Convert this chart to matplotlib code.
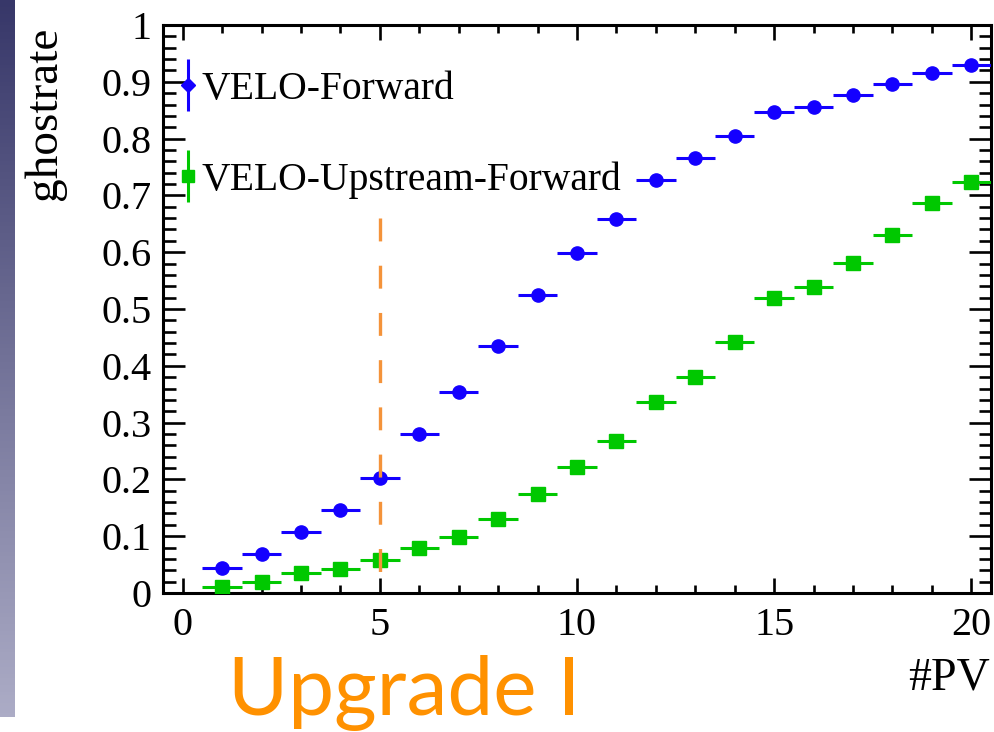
import numpy as np
import matplotlib
matplotlib.use("Agg")
import matplotlib.pyplot as plt
from matplotlib.lines import Line2D
from matplotlib.legend_handler import HandlerTuple
from matplotlib.ticker import MultipleLocator

# DATOS
n_pv = list(range(1, 21))
ghost_forward = [0.044, 0.068, 0.107, 0.147, 0.203, 0.280, 0.354, 0.435, 0.525, 0.598,
                 0.658, 0.727, 0.765, 0.805, 0.847, 0.856, 0.877, 0.897, 0.915, 0.930]
ghost_upstream = [0.011, 0.020, 0.035, 0.043, 0.058, 0.079, 0.099, 0.131, 0.175, 0.221,
                  0.268, 0.336, 0.380, 0.442, 0.519, 0.538, 0.581, 0.631, 0.686, 0.724]
bin_halfwidth = 0.5
labels = ["VELO-Forward", "VELO-Upstream-Forward"]
upgrade_pv = 5
upgrade_top = 0.66
upgrade_text = "Upgrade I"

SERIF = ["Liberation Serif", "DejaVu Serif"]
AZUL = "#1400ff"
VERDE = "#00c800"
NARANJA = "#ff9100"

plt.rcParams["font.family"] = SERIF
plt.rcParams["lines.scale_dashes"] = False

W, H = 995, 732
fig = plt.figure(figsize=(W / 100, H / 100), dpi=100)

# franja de la diapositiva a la izquierda
strip = fig.add_axes([0, 1 - 717 / H, 15 / W, 717 / H])
top_c = np.array([55, 55, 105]) / 255
bot_c = np.array([172, 172, 198]) / 255
t = np.linspace(0, 1, 200)[:, None]
grad = (top_c * (1 - t) + bot_c * t)[:, None, :]
strip.imshow(grad, aspect="auto")
strip.axis("off")

ax = fig.add_axes([163 / W, 1 - 593 / H, 828 / W, 568 / H])

ax.errorbar(n_pv, ghost_forward, xerr=bin_halfwidth, fmt="o", color=AZUL,
            ms=9.5, elinewidth=2.2, capsize=0, zorder=3)
ax.errorbar(n_pv, ghost_upstream, xerr=bin_halfwidth, fmt="s", color=VERDE,
            ms=9.5, elinewidth=2.2, capsize=0, zorder=3)

# linea vertical del Upgrade I
ax.plot([upgrade_pv, upgrade_pv], [upgrade_top, 0], color="#f4933a", lw=2.4,
        dashes=(16.5, 17.5), zorder=4)

ax.set_xlim(-0.5, 20.5)
ax.set_ylim(0, 1)
ax.xaxis.set_major_locator(MultipleLocator(5))
ax.xaxis.set_minor_locator(MultipleLocator(1))
ax.yaxis.set_major_locator(MultipleLocator(0.1))
ax.yaxis.set_minor_locator(MultipleLocator(0.02))
ax.yaxis.set_major_formatter(plt.FuncFormatter(lambda v, p: f"{v:g}"))

for s in ax.spines.values():
    s.set_linewidth(2.2)
ax.tick_params(which="both", direction="in", top=True, right=True, width=1.9,
               labelsize=29, colors="black")
ax.tick_params(axis="x", which="major", length=11, pad=10)
ax.tick_params(axis="x", which="minor", length=6)
ax.tick_params(axis="y", which="major", length=16, pad=8)
ax.tick_params(axis="y", which="minor", length=9)

fig.text(990 / W, 1 - 690 / H, "#PV", ha="right", va="baseline", fontsize=33)
fig.text(45 / W, 1 - 27 / H, "ghostrate", rotation=90, ha="center", va="top",
         fontsize=34)

# leyenda
h_az = (Line2D([], [], color=AZUL, marker="|", ms=38, mew=2.2, ls="none"),
        Line2D([], [], color=AZUL, marker="D", ms=7, ls="none"))
h_ve = (Line2D([], [], color=VERDE, marker="|", ms=38, mew=2.2, ls="none"),
        Line2D([], [], color=VERDE, marker="s", ms=8.5, ls="none"))
ax.legend([h_az, h_ve], labels, handler_map={tuple: HandlerTuple(ndivide=1)},
          loc="upper left", bbox_to_anchor=(0.016, 0.919), frameon=False,
          fontsize=28.5, handlelength=0.6, handletextpad=0.05, labelspacing=1.35,
          borderpad=0, borderaxespad=0)

fig.text(228 / W, 1 - 715 / H, upgrade_text, ha="left", va="baseline",
         fontsize=59, color=NARANJA, family=["Lato", "DejaVu Sans"])

fig.savefig("out.png", dpi=100)
